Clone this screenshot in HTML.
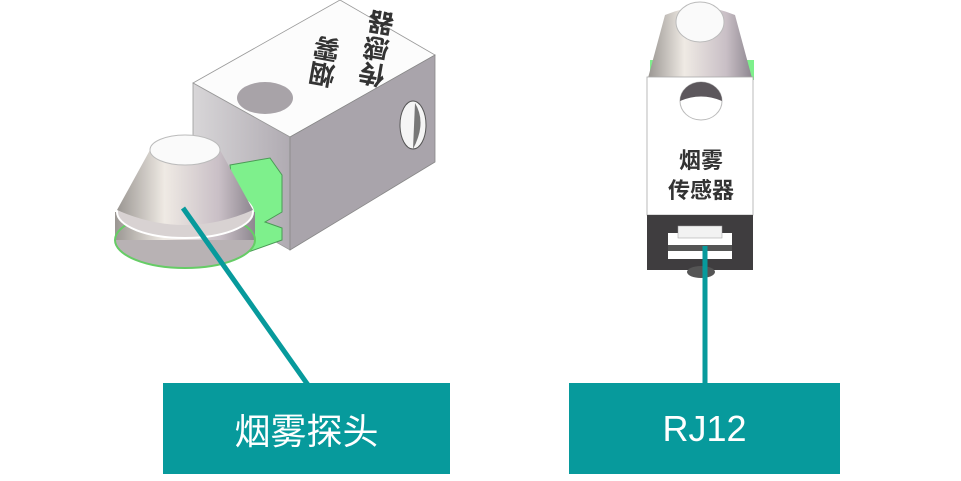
<!DOCTYPE html>
<html><head><meta charset="utf-8"><style>
html,body{margin:0;padding:0;background:#fff;}
body{width:961px;height:481px;overflow:hidden;position:relative;font-family:"Liberation Sans","Noto Sans CJK SC",sans-serif;}
.lab{position:absolute;background:#079a9c;color:#fff;display:flex;align-items:center;justify-content:center;font-size:36px;}
.vt{position:absolute;writing-mode:vertical-rl;font-family:"Noto Sans CJK SC",sans-serif;font-weight:bold;font-size:26px;line-height:30px;color:#333;transform-origin:center;}
</style></head><body>
<svg width="961" height="481" style="position:absolute;left:0;top:0">
<defs>
<linearGradient id="cone" x1="0" x2="1"><stop offset="0" stop-color="#9a9692"/><stop offset="0.35" stop-color="#efeae4"/><stop offset="0.75" stop-color="#c9bfc6"/><stop offset="1" stop-color="#8e8790"/></linearGradient>
<linearGradient id="side" x1="0" x2="1"><stop offset="0" stop-color="#d8d6d8"/><stop offset="1" stop-color="#b0abb2"/></linearGradient>
</defs>
<polygon points="193,83 340,0 435,55 290,137" fill="#fcfcfc" stroke="#999" stroke-width="0.8"/>
<polygon points="193,83 290,137 290,250 193,195" fill="url(#side)" stroke="#999" stroke-width="0.8"/>
<polygon points="290,137 435,55 435,162 290,250" fill="#a9a4ab" stroke="#888" stroke-width="0.8"/>
<ellipse cx="265" cy="98" rx="28" ry="16" fill="#a8a3a8"/>
<ellipse cx="413" cy="125" rx="13" ry="24" fill="#f5f5f5" stroke="#555" stroke-width="1"/>
<path d="M415 103 q12 20 -2 46" fill="#777"/>
<polygon points="230,165 270,158 282,175 282,212 265,222 282,228 282,240 240,255" fill="#7ef08c" stroke="#4a9a55" stroke-width="1"/>
<ellipse cx="185" cy="240" rx="70" ry="28" fill="#b8b2b4"/>
<rect x="115" y="212" width="140" height="28" fill="url(#cone)"/>
<ellipse cx="185" cy="240" rx="70" ry="28" fill="none" stroke="#6c6" stroke-width="2"/>
<ellipse cx="185" cy="212" rx="68" ry="26" fill="#d8d2d2" stroke="#fff" stroke-width="2"/>
<path d="M117 210 L150 150 L220 150 L253 210 Q185 240 117 210Z" fill="url(#cone)"/>
<ellipse cx="185" cy="150" rx="35" ry="15" fill="#fafafa" stroke="#bbb"/>
<line x1="183" y1="208" x2="308" y2="385" stroke="#079a9c" stroke-width="5"/>
<rect x="650" y="60" width="104" height="20" fill="#7ef08c"/>
<path d="M648 78 L665 15 Q700 0 735 15 L752 78Z" fill="url(#cone)"/>
<ellipse cx="700" cy="22" rx="24" ry="20" fill="#fafafa" stroke="#bbb"/>
<rect x="647" y="77" width="106" height="138" fill="#fff" stroke="#aaa" stroke-width="0.8"/>
<ellipse cx="701" cy="101" rx="21" ry="19" fill="#fff" stroke="#bbb"/>
<path d="M680 101 A21 19 0 0 1 722 101 Q701 92 680 101Z" fill="#5c575c"/>
<text x="701" y="168" font-size="22" text-anchor="middle" fill="#333" font-weight="bold" font-family="'Noto Sans CJK SC',sans-serif">烟雾</text>
<text x="701" y="198" font-size="22" text-anchor="middle" fill="#333" font-weight="bold" font-family="'Noto Sans CJK SC',sans-serif">传感器</text>
<rect x="647" y="215" width="106" height="55" fill="#3f3d3f"/>
<rect x="668" y="233" width="64" height="26" fill="#fff"/>
<rect x="678" y="226" width="44" height="12" fill="#f2f2f2" stroke="#999" stroke-width="0.5"/>
<rect x="668" y="245" width="64" height="6" fill="#555"/>
<ellipse cx="701" cy="272" rx="14" ry="6" fill="#555"/>
<line x1="705" y1="246" x2="705" y2="385" stroke="#079a9c" stroke-width="5"/>
</svg>
<div class="vt" style="left:310px;top:32px;height:56px;transform:rotate(190deg);">烟雾</div>
<div class="vt" style="left:362px;top:6px;height:82px;transform:rotate(190deg);">传感器</div>
<div class="lab" style="left:163px;top:383px;width:287px;height:91px;">烟雾探头</div>
<div class="lab" style="left:569px;top:383px;width:271px;height:91px;">RJ12</div>
</body></html>
